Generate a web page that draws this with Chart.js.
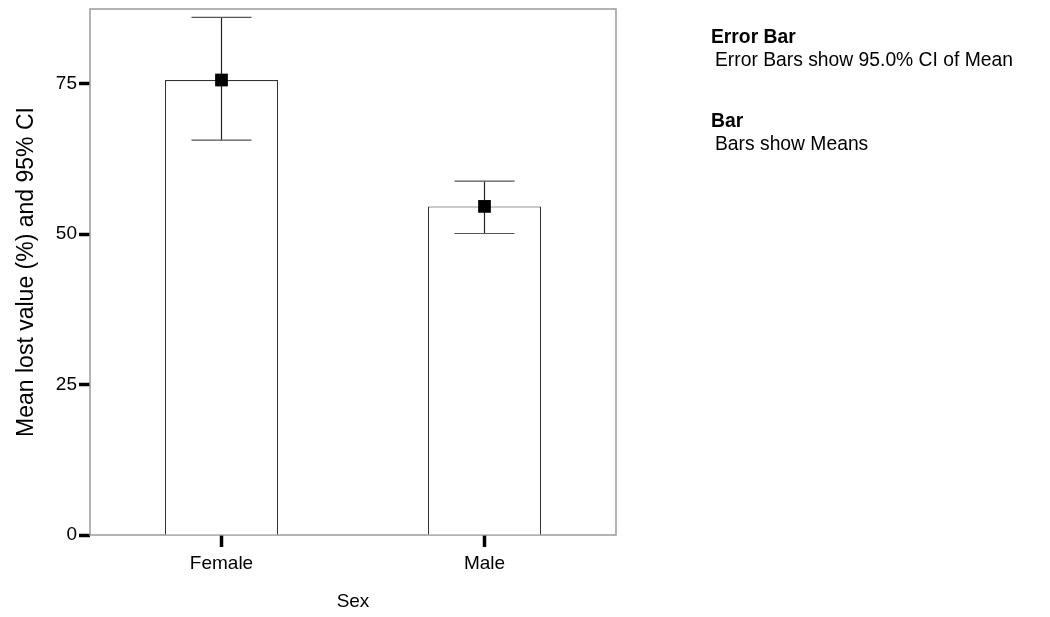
<!DOCTYPE html>
<html>
<head>
<meta charset="utf-8">
<script src="https://cdn.jsdelivr.net/npm/chart.js@4.4.1/dist/chart.umd.min.js"></script>
<style>
  html, body { margin: 0; padding: 0; background: #fff; }
  #wrap { position: relative; width: 1050px; height: 617px; }
  .note { position: absolute; left: 711px; font-family: "Liberation Sans", Arial, sans-serif; font-size: 19.3px; color: #000; line-height: 23px; }
  .note b { display: block; }
  .note span { display: block; padding-left: 4px; }
</style>
</head>
<body>
<div id="wrap">
  <canvas id="chart" width="1050" height="617"></canvas>
  <div class="note" style="top:25px"><b>Error Bar</b><span>Error Bars show 95.0% CI of Mean</span></div>
  <div class="note" style="top:109px"><b>Bar</b><span>Bars show Means</span></div>
</div>
<script>
const categories = ['Female', 'Male'];
const means = [75.6, 54.6];
const ciLow = [65.6, 50.1];
const ciHigh = [86.0, 58.8];
const yTicks = [0, 25, 50, 75];

const FONT = '"Liberation Sans", Arial, sans-serif';

// frame around the plot area
const framePlugin = {
    id: 'frame',
    beforeDatasetsDraw(chart) {
        const a = chart.chartArea;
        const ctx = chart.ctx;
        ctx.save();
        ctx.strokeStyle = '#999';
        ctx.lineWidth = 1.5;
        ctx.strokeRect(a.left, a.top, a.right - a.left, a.bottom - a.top);
        ctx.restore();
    }
};

// CI whiskers, drawn before the mean markers
const errorBarPlugin = {
    id: 'errorBars',
    afterDatasetDraw(chart, args) {
        if (args.index !== 0) return;
        const ctx = chart.ctx;
        const x = chart.scales.x;
        const y = chart.scales.y;
        ctx.save();
        ctx.lineWidth = 1.2;
        categories.forEach((c, i) => {
            const px = x.getPixelForValue(i);
            const top = y.getPixelForValue(ciHigh[i]);
            const bot = y.getPixelForValue(ciLow[i]);
            ctx.strokeStyle = '#222';
            ctx.beginPath();
            ctx.moveTo(px, top);
            ctx.lineTo(px, bot);
            ctx.stroke();
            ctx.strokeStyle = '#555';
            ctx.beginPath();
            ctx.moveTo(px - 30, top);
            ctx.lineTo(px + 30, top);
            ctx.moveTo(px - 30, bot);
            ctx.lineTo(px + 30, bot);
            ctx.stroke();
        });
        ctx.restore();
    }
};

new Chart(document.getElementById('chart'), {
    data: {
        labels: categories,
        datasets: [
            {
                type: 'bar',
                data: means,
                backgroundColor: '#fff',
                borderColor: '#333',
                borderWidth: 1.2,
                categoryPercentage: 1,
                barPercentage: 0.43,
                order: 2
            },
            {
                type: 'line',
                data: means,
                showLine: false,
                pointStyle: 'rect',
                pointRadius: 9,
                pointBackgroundColor: '#000',
                pointBorderColor: '#000',
                pointBorderWidth: 0,
                order: 1
            }
        ]
    },
    options: {
        responsive: false,
        animation: false,
        layout: { padding: { top: 8, right: 434, bottom: 0, left: 0 } },
        plugins: { legend: { display: false }, tooltip: { enabled: false } },
        scales: {
            x: {
                offset: true,
                border: { display: false },
                grid: { drawOnChartArea: false, drawTicks: true, tickLength: 12, tickWidth: 3.5, tickColor: '#000', offset: false },
                ticks: { color: '#000', font: { family: FONT, size: 19 }, padding: 5 },
                title: { display: true, text: 'Sex', color: '#000', font: { family: FONT, size: 19 }, padding: { top: 12 } },
                afterFit(scale) { scale.height = 82; }
            },
            y: {
                min: 0,
                max: 87.4,
                afterBuildTicks(scale) { scale.ticks = yTicks.map(v => ({ value: v })); },
                border: { display: false },
                grid: { drawOnChartArea: false, drawTicks: true, tickLength: 11, tickWidth: 3.5, tickColor: '#000' },
                ticks: { color: '#000', font: { family: FONT, size: 19 }, padding: 2 },
                title: { display: true, text: 'Mean lost value (%) and 95% CI', color: '#000', font: { family: FONT, size: 23 }, padding: { top: 13 } },
                afterFit(scale) { scale.width = 90; scale.paddingTop = 0; scale.paddingBottom = 0; }
            }
        }
    },
    plugins: [framePlugin, errorBarPlugin]
});
</script>
</body>
</html>
